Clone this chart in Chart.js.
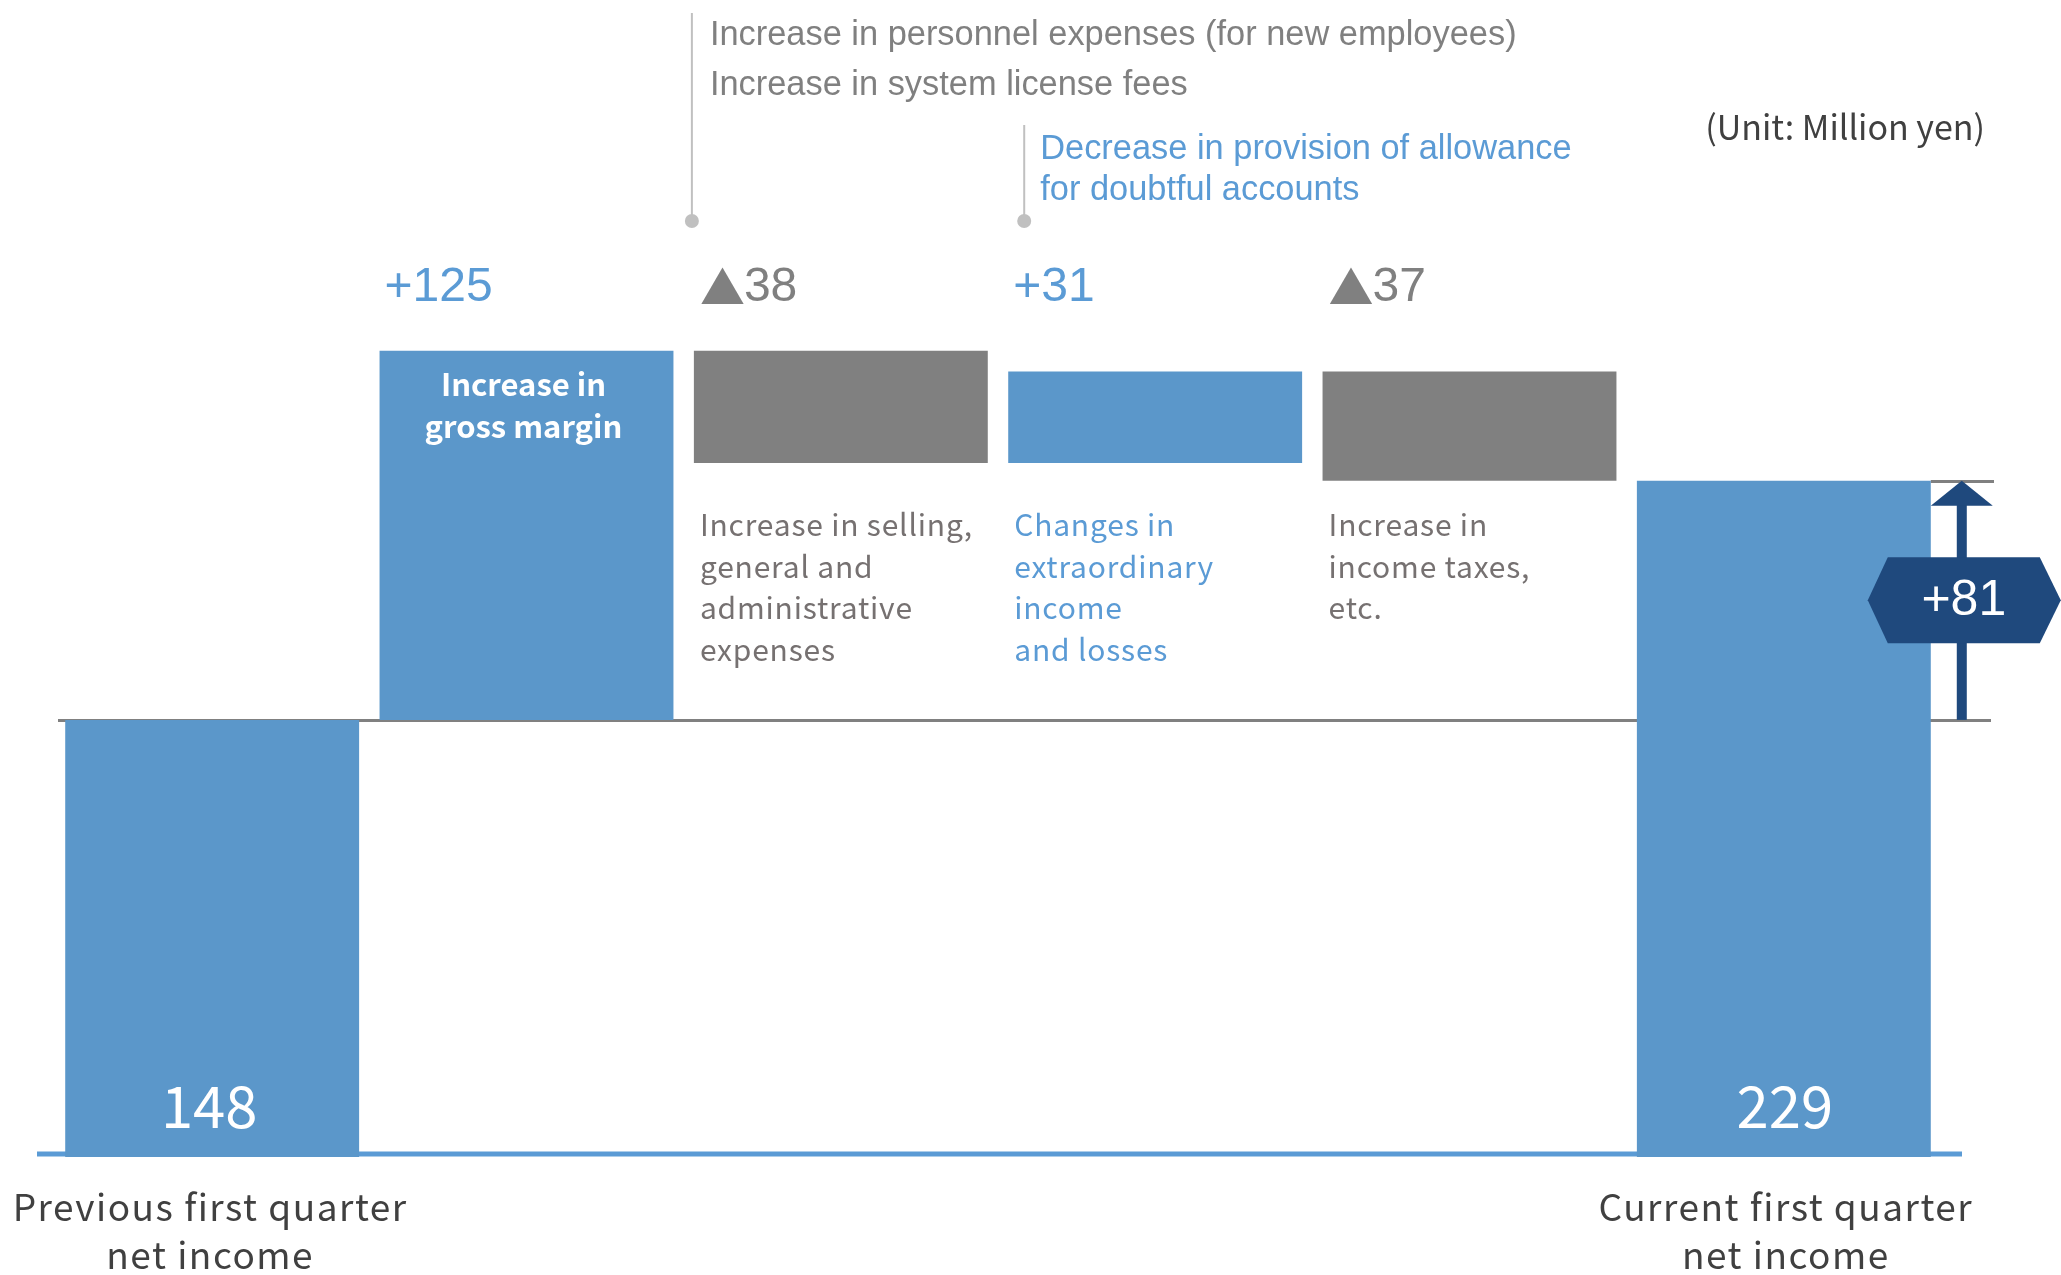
<!DOCTYPE html>
<html>
<head>
<meta charset="utf-8">
<script src="https://cdn.jsdelivr.net/npm/chart.js@4.4.1/dist/chart.umd.min.js"></script>
<style>
  html, body { margin: 0; padding: 0; background: #ffffff; }
  #wrap { width: 2061px; height: 1275px; position: relative; }
</style>
</head>
<body>
<div id="wrap"><canvas id="bridge"></canvas></div>
<script>
// 데이터
const categories = [
  ["Previous first quarter", "net income"],
  ["Increase in", "gross margin"],
  ["Increase in selling,", "general and", "administrative", "expenses"],
  ["Changes in", "extraordinary", "income", "and losses"],
  ["Increase in", "income taxes,", "etc."],
  ["Current first quarter", "net income"],
];
const changes = [148, 125, -38, 31, -37, 229];
const isTotal = [true, false, false, false, false, true];
const valueLabels = ["148", "+125", "▲38", "+31", "▲37", "229"];
const netChangeLabel = "+81";
const noteSga = ["Increase in personnel expenses (for new employees)", "Increase in system license fees"];
const noteExtra = ["Decrease in provision of allowance", "for doubtful accounts"];
const unitLabel = "(Unit: Million yen)";

const BLUE = "#5b97ca";
const TEXT_BLUE = "#5b9bd5";
const GRAY = "#808080";
const NAVY = "#1f497d";
const DARK = "#404040";

// 누적값으로 floating bar 구간 만들기
let running = 0;
const ranges = changes.map((v, i) => {
  if (isTotal[i]) {
    running = v;
    return [0, v];
  }
  const from = running;
  running += v;
  return [Math.min(from, running), Math.max(from, running)];
});
const barColors = changes.map((v, i) => (isTotal[i] || v > 0 ? BLUE : GRAY));

const drawLines = (ctx, lines, x, y, lh) => {
  lines.forEach((t, k) => ctx.fillText(t, x, y + k * lh));
};

// ▲ 는 CJK 글꼴로, 숫자는 Arial 계열로
const drawValue = (ctx, text, x, y) => {
  let cx = x;
  if (text.startsWith("▲")) {
    ctx.font = "45px 'Noto Sans CJK JP', sans-serif";
    ctx.fillText("▲", cx + 1, y);
    cx += ctx.measureText("▲").width;
    text = text.slice(1);
  }
  ctx.font = "48px 'Liberation Sans', Arial, sans-serif";
  ctx.fillText(text, cx, y);
};

const linesPlugin = {
  id: "bridgeLines",
  beforeDatasetsDraw: (chart) => {
    const { ctx, scales: { y } } = chart;
    const meta = chart.getDatasetMeta(0);
    const last = meta.data[meta.data.length - 1];
    ctx.save();
    // 전년 수준선
    ctx.strokeStyle = GRAY;
    ctx.lineWidth = 3;
    ctx.beginPath();
    const yPrev = Math.round(y.getPixelForValue(changes[0])) + 0.5;
    ctx.moveTo(58, yPrev);
    ctx.lineTo(1991, yPrev);
    // 당기 수준선 (오른쪽 짧은 선)
    const yCur = Math.round(y.getPixelForValue(changes[5])) + 0.5;
    ctx.moveTo(last.x + last.width / 2, yCur);
    ctx.lineTo(1994, yCur);
    ctx.stroke();
    // 바닥 파란 선
    ctx.strokeStyle = TEXT_BLUE;
    ctx.lineWidth = 5;
    ctx.beginPath();
    const y0 = y.getPixelForValue(0) - 3;
    ctx.moveTo(37, y0);
    ctx.lineTo(1962, y0);
    ctx.stroke();
    ctx.restore();
  },
  afterDatasetsDraw: (chart) => {
    const { ctx, scales: { y } } = chart;
    const meta = chart.getDatasetMeta(0);
    const bars = meta.data;
    ctx.save();
    ctx.textBaseline = "middle";

    // 변동값 라벨 (막대 위)
    const topY = y.getPixelForValue(Math.max(...ranges.slice(1, 5).map((r) => r[1]))) - 63;
    ctx.textAlign = "left";
    for (let i = 1; i < 5; i++) {
      const b = bars[i];
      ctx.fillStyle = changes[i] > 0 ? TEXT_BLUE : GRAY;
      drawValue(ctx, valueLabels[i], b.x - b.width / 2 + 5, topY);
    }

    // 막대 설명
    const b2 = bars[1];
    ctx.font = "bold 31px 'Noto Sans CJK JP', 'Noto Sans', sans-serif";
    ctx.fillStyle = "#ffffff";
    ctx.textAlign = "center";
    drawLines(ctx, categories[1], b2.x - 3, y.getPixelForValue(ranges[1][1]) + 33, 42);

    const descY = y.getPixelForValue(Math.min(...ranges.slice(2, 5).map((r) => r[0]))) + 44;
    ctx.font = "30px 'Noto Sans CJK JP', 'Noto Sans', sans-serif";
    ctx.letterSpacing = "0.8px";
    ctx.textAlign = "left";
    for (let i = 2; i < 5; i++) {
      const b = bars[i];
      ctx.fillStyle = changes[i] > 0 ? TEXT_BLUE : "#767171";
      drawLines(ctx, categories[i], b.x - b.width / 2 + 6, descY, 41.5);
    }
    ctx.letterSpacing = "0px";

    // 합계 값
    ctx.font = "58px 'Noto Sans CJK JP', 'Noto Sans', sans-serif";
    ctx.fillStyle = "#ffffff";
    ctx.textAlign = "center";
    ctx.fillText(valueLabels[0], bars[0].x - 3, y.getPixelForValue(0) - 51);
    ctx.fillText(valueLabels[5], bars[5].x + 1, y.getPixelForValue(0) - 51);

    // 카테고리 라벨 (양 끝)
    ctx.font = "37px 'Noto Sans CJK JP', 'Noto Sans', sans-serif";
    ctx.letterSpacing = "1.5px";
    ctx.fillStyle = DARK;
    drawLines(ctx, categories[0], bars[0].x - 2, y.getPixelForValue(0) + 50, 48);
    drawLines(ctx, categories[5], bars[5].x + 2, y.getPixelForValue(0) + 50, 48);
    ctx.letterSpacing = "0px";

    // 증감 화살표
    const last = bars[5];
    const ax = last.x + last.width / 2 + 31;
    const yTop = y.getPixelForValue(changes[5]);
    const yBot = y.getPixelForValue(changes[0]);
    ctx.fillStyle = NAVY;
    ctx.fillRect(ax - 5, yTop + 24, 10, yBot - yTop - 24);
    ctx.beginPath();
    ctx.moveTo(ax, yTop);
    ctx.lineTo(ax + 31, yTop + 25);
    ctx.lineTo(ax - 31, yTop + 25);
    ctx.closePath();
    ctx.fill();

    // 육각형 배지
    const cx = ax + 2;
    const cy = (yTop + yBot) / 2;
    ctx.beginPath();
    ctx.moveTo(cx - 96, cy);
    ctx.lineTo(cx - 76, cy - 43);
    ctx.lineTo(cx + 76, cy - 43);
    ctx.lineTo(cx + 97, cy);
    ctx.lineTo(cx + 76, cy + 43);
    ctx.lineTo(cx - 76, cy + 43);
    ctx.closePath();
    ctx.fill();
    ctx.font = "50px 'Liberation Sans', Arial, sans-serif";
    ctx.fillStyle = "#ffffff";
    ctx.textAlign = "center";
    ctx.fillText(netChangeLabel, cx, cy + 1);

    // 상단 주석
    const b3 = bars[2];
    const b4 = bars[3];
    const dotY = 221;
    ctx.strokeStyle = "#c0c0c0";
    ctx.fillStyle = "#c0c0c0";
    ctx.lineWidth = 2;
    const l1 = b3.x - b3.width / 2 - 2;
    const l2 = b4.x - b4.width / 2 + 16;
    ctx.beginPath();
    ctx.moveTo(l1, 13);
    ctx.lineTo(l1, dotY);
    ctx.moveTo(l2, 125);
    ctx.lineTo(l2, dotY);
    ctx.stroke();
    [l1, l2].forEach((lx) => {
      ctx.beginPath();
      ctx.arc(lx, dotY, 7, 0, Math.PI * 2);
      ctx.fill();
    });

    ctx.font = "34.4px 'Liberation Sans', Arial, sans-serif";
    ctx.textAlign = "left";
    ctx.fillStyle = GRAY;
    drawLines(ctx, noteSga, l1 + 18, 36, 50);
    ctx.fillStyle = TEXT_BLUE;
    drawLines(ctx, noteExtra, l2 + 16, 150, 41);

    ctx.font = "34px 'Noto Sans CJK JP', 'Noto Sans', sans-serif";
    ctx.fillStyle = DARK;
    ctx.textAlign = "right";
    ctx.fillText(unitLabel, 1985, 127);

    ctx.restore();
  },
};

new Chart(document.getElementById("bridge").getContext("2d"), {
  type: "bar",
  data: {
    labels: categories.map((c) => c.join(" ")),
    datasets: [
      {
        data: ranges,
        backgroundColor: barColors,
        borderWidth: 0,
        barPercentage: 0.935,
        categoryPercentage: 1,
      },
    ],
  },
  plugins: [linesPlugin],
  options: {
    responsive: true,
    maintainAspectRatio: false,
    animation: false,
    layout: { padding: { top: 271, bottom: 118, left: 55, right: 120 } },
    plugins: { legend: { display: false }, tooltip: { enabled: false } },
    scales: {
      x: { display: false },
      y: { display: false, min: 0, max: 300 },
    },
  },
});
</script>
</body>
</html>
